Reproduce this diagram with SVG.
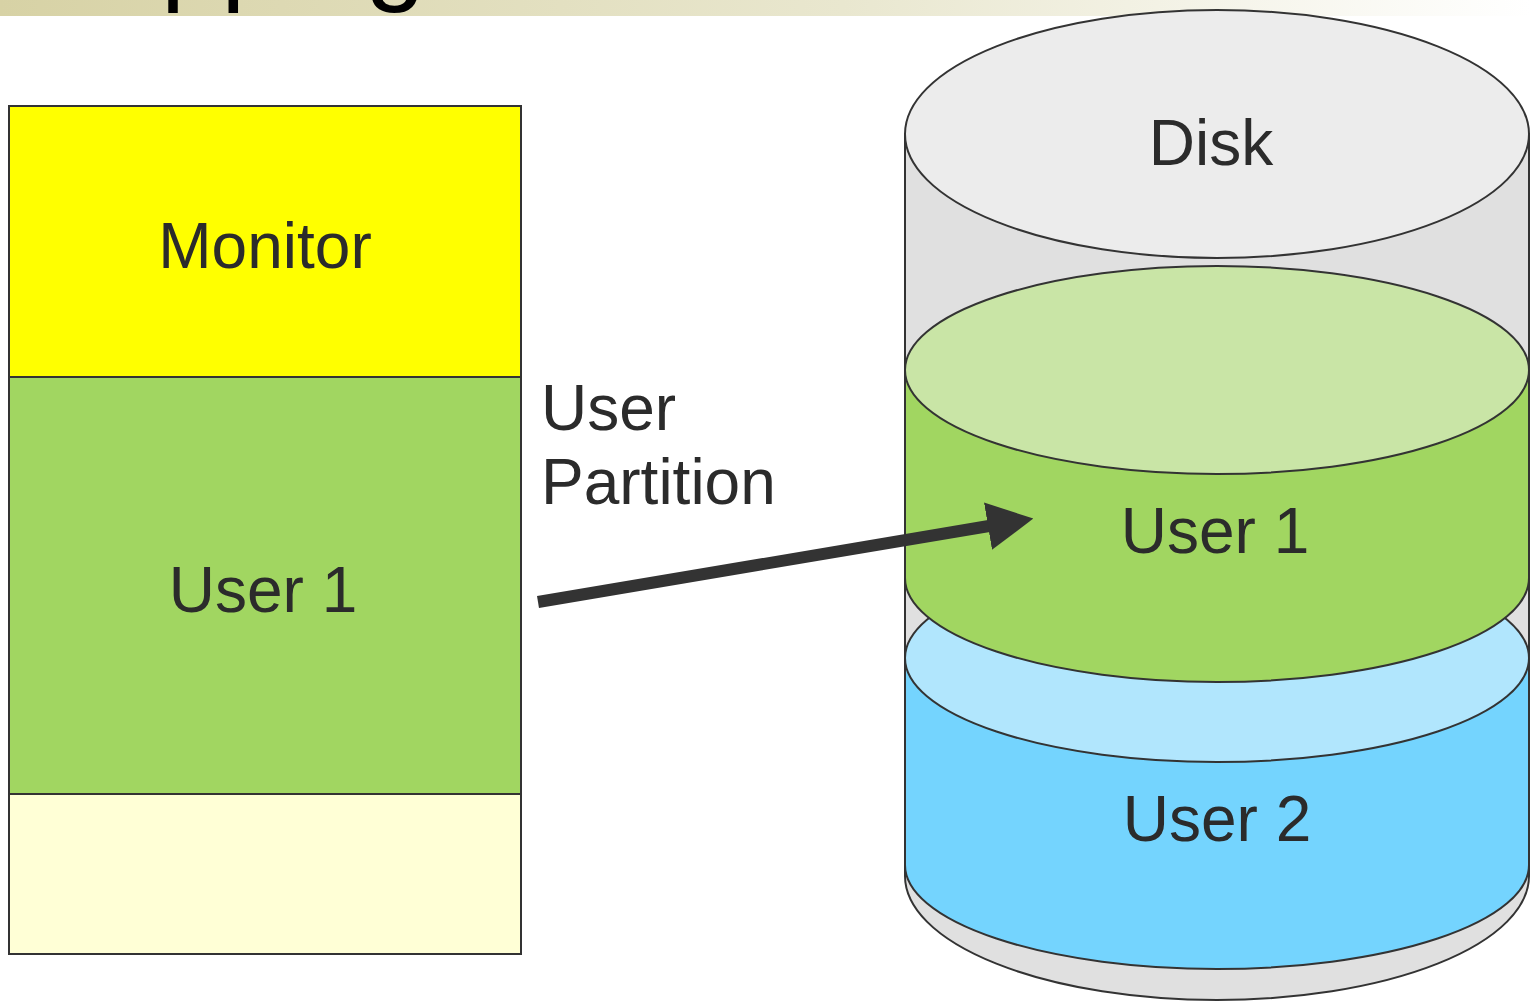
<svg xmlns="http://www.w3.org/2000/svg" width="1531" height="1002" viewBox="0 0 1531 1002">
  <defs>
    <linearGradient id="bar" x1="0" y1="0" x2="1" y2="0">
      <stop offset="0" stop-color="#d7d2a5"/>
      <stop offset="0.55" stop-color="#e9e7cf"/>
      <stop offset="1" stop-color="#ffffff"/>
    </linearGradient>
    <marker id="head" markerUnits="userSpaceOnUse" markerWidth="46" markerHeight="48" viewBox="0 0 46 48" refX="1" refY="24" orient="auto">
      <path d="M0,0 L46,24 L0,48 z" fill="#333333"/>
    </marker>
  </defs>
  <style>
    .lbl { font-family: "Liberation Sans", Arial, sans-serif; font-size: 64px; fill: #2b2b2b; }
    .mid { text-anchor: middle; }
    .edge { stroke: #333333; stroke-width: 2; }
  </style>
  <rect width="1531" height="1002" fill="#ffffff"/>
  <g id="title">
    <rect x="0" y="0" width="1531" height="16" fill="url(#bar)"/>
    <text x="-49" y="-9" font-family="Liberation Sans, Arial, sans-serif" font-size="108" fill="#000000">Swapping</text>
  </g>

  <g id="memory">
    <g id="monitor">
      <rect x="9" y="106" width="512" height="271" fill="#ffff00" class="edge"/>
      <text x="265" y="268" class="lbl mid">Monitor</text>
    </g>
    <g id="user1-mem">
      <rect x="9" y="377" width="512" height="417" fill="#a1d661" class="edge"/>
      <text x="263" y="612" class="lbl mid">User 1</text>
    </g>
    <g id="free-mem">
      <rect x="9" y="794" width="512" height="160" fill="#ffffd6" class="edge"/>
    </g>
  </g>

  <g id="partition-label">
    <text x="541" y="430" class="lbl">User</text>
    <text x="541" y="504" class="lbl">Partition</text>
  </g>

  <g id="disk">
    <path d="M905,134 L905,876 A312,124 0 0 0 1529,876 L1529,134 Z" fill="#e0e0e0" class="edge"/>
    <g id="user2-disk">
      <path d="M905,658 L905,865 A312,104 0 0 0 1529,865 L1529,658 Z" fill="#74d4fe" class="edge"/>
      <ellipse cx="1217" cy="658" rx="312" ry="104" fill="#b1e6fd" class="edge"/>
      <text x="1217" y="841" class="lbl mid">User 2</text>
    </g>
    <g id="user1-disk">
      <path d="M905,370 L905,578 A312,104 0 0 0 1529,578 L1529,370 Z" fill="#a1d661" class="edge"/>
      <ellipse cx="1217" cy="370" rx="312" ry="104" fill="#c9e5a6" class="edge"/>
      <text x="1215" y="553" class="lbl mid">User 1</text>
    </g>
    <g id="disk-top">
      <ellipse cx="1217" cy="134" rx="312" ry="124" fill="#ececec" class="edge"/>
      <text x="1211" y="165" class="lbl mid">Disk</text>
    </g>
  </g>

  <g id="connectors">
    <line x1="538" y1="602" x2="989" y2="526" stroke="#333333" stroke-width="12" marker-end="url(#head)"/>
  </g>
</svg>
